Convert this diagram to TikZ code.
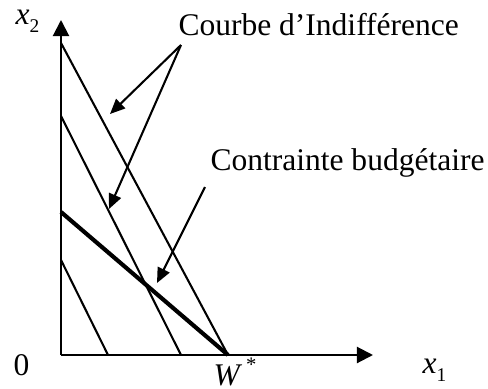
\documentclass[tikz,border=0pt]{standalone}
\usepackage{fontspec}
\setmainfont{Liberation Serif}
\usetikzlibrary{arrows.meta}
\begin{document}
\begin{tikzpicture}[x=0.387pt,y=-0.387pt,
  thinline/.style={line width=0.8pt},
  thickline/.style={line width=1.6pt},
  axis/.style={line width=0.8pt,-{Triangle[length=6.2pt,width=6.2pt]}},
  pointer/.style={line width=0.8pt,-{Triangle[length=5.8pt,width=5pt]}},
  lab/.style={inner sep=0pt,anchor=base west,font=\fontsize{12.2}{14}\selectfont}]
\useasboundingbox (0,0) rectangle (488,389);
% points
\coordinate (O) at (61,355);
\coordinate (ytip) at (61,20);
\coordinate (xtip) at (373,355);
\coordinate (W) at (228,355);
\coordinate (a1) at (61,43);
\coordinate (a2) at (61,116);
\coordinate (b2) at (181,355);
\coordinate (a3) at (61,260);
\coordinate (b3) at (108,355);
\coordinate (bud) at (61,212);
% axes
\draw[axis] (O) -- (ytip);
\draw[axis] (O) -- (xtip);
% indifference curves
\draw[thinline] (a1) -- (W);
\draw[thinline] (a2) -- (b2);
\draw[thinline] (a3) -- (b3);
% budget line
\draw[thickline] (bud) -- (W);
% labels
\node[lab] (lx2) at (15,24) {\textit{x}\raisebox{-0.26em}{\fontsize{7.5}{8}\selectfont 2}};
\node[lab] (lx1) at (422,373) {\textit{x}\raisebox{-0.26em}{\fontsize{7.5}{8}\selectfont 1}};
\node[lab] (l0) at (13,375) {0};
\node[lab] (lW) at (213,385) {\textit{W}\hspace{1.5pt}\raisebox{0.42em}{\fontsize{8}{8}\selectfont *}};
\node[lab] (courbe) at (178,35) {Courbe d’Indifférence};
\node[lab] (contr) at (210,170) {Contrainte budgétaire};
% pointers
\coordinate (cs) at (181,45);
\coordinate (ct1) at (110,114);
\coordinate (ct2) at (109,209);
\coordinate (bs) at (205,187);
\coordinate (bt) at (157,283);
\draw[pointer] (cs) -- (ct1);
\draw[pointer] (cs) -- (ct2);
\draw[pointer] (bs) -- (bt);
\end{tikzpicture}
\end{document}
